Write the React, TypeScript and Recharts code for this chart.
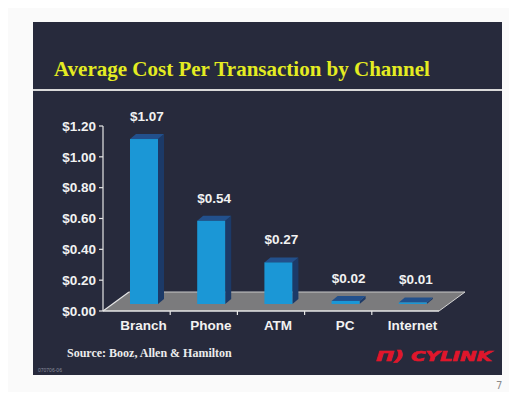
import React from "react";
import { BarChart, Bar, XAxis, YAxis, ReferenceArea, LabelList } from "recharts";

const channels = ["Branch", "Phone", "ATM", "PC", "Internet"];
const costs = [1.07, 0.54, 0.27, 0.02, 0.01];
const yTicks = [0, 0.2, 0.4, 0.6, 0.8, 1.0, 1.2];

const data = channels.map((name, i) => ({ name, cost: costs[i] }));

const money = (v: number) => `$${v.toFixed(2)}`;

// how far bars sit behind the front edge of the floor
const SHIFT_X = 7;
const SHIFT_Y = -7;

function Floor(props: any) {
  const { x, y, width, height } = props;
  const y0 = y + height;
  const dx = 26;
  const dy = -19;
  const step = width / channels.length;
  const ticks = channels.slice(1).map((_, i) => x + step * (i + 1));
  return (
    <g>
      <polygon
        points={`${x},${y0} ${x + width},${y0} ${x + width + dx},${y0 + dy} ${x + dx},${y0 + dy}`}
        fill="#7b7b7d"
      />
      <line x1={x + dx} y1={y0 + dy} x2={x + width + dx} y2={y0 + dy} stroke="#c9c9c9" strokeWidth={1} />
      <line x1={x + width} y1={y0} x2={x + width + dx} y2={y0 + dy} stroke="#d6d6d6" strokeWidth={1} />
      <line x1={x} y1={y0} x2={x + dx} y2={y0 + dy} stroke="#e6e6e6" strokeWidth={1.2} />
      <line x1={x} y1={y0} x2={x + width} y2={y0} stroke="#e6e6e6" strokeWidth={1.5} />
      {ticks.map((t) => (
        <line key={t} x1={t} y1={y0} x2={t} y2={y0 + 4} stroke="#e6e6e6" strokeWidth={1.2} />
      ))}
    </g>
  );
}

function Bar3D(props: any) {
  const { x, y, width, height } = props;
  const fx = x + SHIFT_X;
  const fy = y + SHIFT_Y;
  const d = 6;
  const dv = 5;
  return (
    <g>
      <polygon
        points={`${fx + width},${fy} ${fx + width + d},${fy - dv} ${fx + width + d},${fy + height - dv} ${fx + width},${fy + height}`}
        fill="#1c3a68"
      />
      <polygon
        points={`${fx},${fy} ${fx + d},${fy - dv} ${fx + width + d},${fy - dv} ${fx + width},${fy}`}
        fill="#22508c"
      />
      <rect x={fx} y={fy} width={width} height={Math.max(height, 1)} fill="#1b97d6" />
    </g>
  );
}

function ValueLabel(props: any) {
  const { x, y, width, value } = props;
  return (
    <text
      x={x + width / 2 + 10}
      y={y - 25}
      textAnchor="middle"
      fill="#f2f2f2"
      fontSize={13.5}
      fontWeight="bold"
      fontFamily="'Liberation Sans', Arial, sans-serif"
    >
      {money(value)}
    </text>
  );
}

function CategoryTick(props: any) {
  const { x, y, payload } = props;
  return (
    <text
      x={x + SHIFT_X}
      y={y}
      dy={11}
      textAnchor="middle"
      fill="#f2f2f2"
      fontSize={13.5}
      fontWeight="bold"
      fontFamily="'Liberation Sans', Arial, sans-serif"
    >
      {payload.value}
    </text>
  );
}

export default function App() {
  return (
    <div style={{ margin: -8, position: "relative", width: 517, height: 400, background: "#fafafa", overflow: "hidden" }}>
      <div style={{ position: "absolute", left: 0, top: 397, width: 517, height: 3, background: "#c4c4c4" }} />
      <div style={{ position: "absolute", left: 33, top: 22, width: 469, height: 353, background: "#272a3c" }} />
      <div
        style={{
          position: "absolute",
          left: 54,
          top: 55,
          fontFamily: "'Liberation Serif', 'Times New Roman', serif",
          fontWeight: "bold",
          fontSize: 21,
          color: "#e4ec22",
          whiteSpace: "nowrap",
          lineHeight: "28px",
        }}
      >
        Average Cost Per Transaction by Channel
      </div>
      <div style={{ position: "absolute", left: 33, top: 89, width: 469, height: 2, background: "#d9d9d9" }} />
      <div
        style={{
          position: "absolute",
          left: 67,
          top: 345,
          fontFamily: "'Liberation Serif', 'Times New Roman', serif",
          fontWeight: "bold",
          fontSize: 12,
          color: "#ececec",
          whiteSpace: "nowrap",
          lineHeight: "16px",
        }}
      >
        Source: Booz, Allen &amp; Hamilton
      </div>
      <div
        style={{
          position: "absolute",
          left: 38,
          top: 367,
          fontFamily: "'Liberation Sans', Arial, sans-serif",
          fontSize: 5,
          color: "#8a8c9c",
          lineHeight: "6px",
        }}
      >
        070706-06
      </div>
      <svg style={{ position: "absolute", left: 0, top: 0 }} width={517} height={400}>
        <g
          fill="#e0162b"
          stroke="#e0162b"
          strokeWidth={0.6}
          fontFamily="'DejaVu Sans', sans-serif"
          fontWeight="bold"
          fontStyle="italic"
          fontSize={14}
        >
          <text x={376} y={361} textLength={28} lengthAdjust="spacingAndGlyphs">
            Π)
          </text>
          <text x={411} y={361} textLength={81} lengthAdjust="spacingAndGlyphs">
            CYLINK
          </text>
        </g>
        <text x={496} y={389} fill="#8a8a8a" fontSize={10} fontFamily="'DejaVu Sans', sans-serif">
          7
        </text>
      </svg>
      <div style={{ position: "absolute", left: 0, top: 0 }}>
        <BarChart width={517} height={400} data={data} margin={{ top: 126, right: 78, bottom: 59, left: 43 }}>
          <ReferenceArea
            x1="Branch"
            x2="Internet"
            y1={0}
            y2={0.1}
            shape={<Floor />}
            ifOverflow="visible"
            zIndex={-1}
          />
          <XAxis
            dataKey="name"
            height={30}
            axisLine={false}
            tickLine={false}
            tick={<CategoryTick />}
            interval={0}
          />
          <YAxis
            width={60}
            domain={[0, 1.2]}
            ticks={yTicks}
            tickFormatter={money}
            axisLine={{ stroke: "#e6e6e6", strokeWidth: 1.2 }}
            tickLine={{ stroke: "#e6e6e6", strokeWidth: 1.2 }}
            tickSize={4}
            tickMargin={3}
            tick={{
              fill: "#f2f2f2",
              fontSize: 13.5,
              fontWeight: "bold",
              fontFamily: "'Liberation Sans', Arial, sans-serif",
            }}
          />
          <Bar dataKey="cost" barSize={28} shape={<Bar3D />} isAnimationActive={false}>
            <LabelList dataKey="cost" content={<ValueLabel />} />
          </Bar>
        </BarChart>
      </div>
    </div>
  );
}
